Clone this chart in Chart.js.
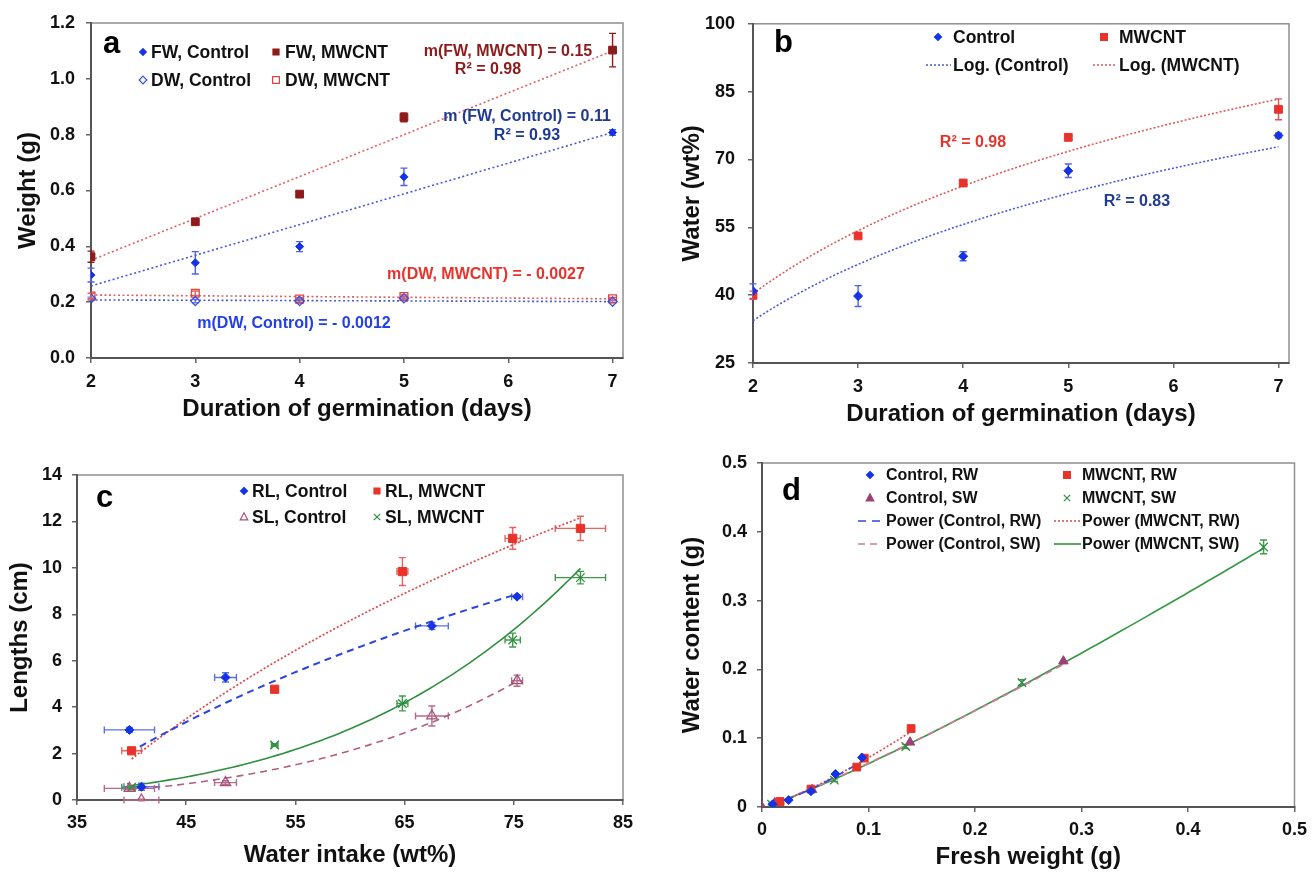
<!DOCTYPE html>
<html>
<head>
<meta charset="utf-8">
<script src="https://cdn.jsdelivr.net/npm/chart.js@4.4.1/dist/chart.umd.min.js"></script>
<style>
  html, body { margin: 0; padding: 0; background: #fff; }
  #wrap { position: relative; width: 1314px; height: 872px; overflow: hidden; background: #fff; }
  #wrap canvas { position: absolute; left: 0; top: 0; }
</style>
</head>
<body>
<div id="wrap">
  <canvas id="chartA" width="1314" height="872"></canvas>
  <canvas id="chartB" width="1314" height="872"></canvas>
  <canvas id="chartC" width="1314" height="872"></canvas>
  <canvas id="chartD" width="1314" height="872"></canvas>
</div>
<script>
// ---------------- data ----------------
const days = [2, 3, 4, 5, 7];

// (a) fresh / dry weight (g)
const fwControl    = [0.297, 0.341, 0.399, 0.649, 0.808];
const fwControlErr = [0.025, 0.040, 0.018, 0.031, 0.010];
const fwMwcnt      = [0.363, 0.488, 0.587, 0.862, 1.103];
const fwMwcntErr   = [0.020, 0.006, 0.008, 0.016, 0.060];
const dwControl    = [0.213, 0.204, 0.204, 0.214, 0.202];
const dwControlErr = [0.005, 0.006, 0.005, 0.006, 0.004];
const dwMwcnt      = [0.222, 0.232, 0.211, 0.220, 0.212];
const dwMwcntErr   = [0.010, 0.008, 0.005, 0.006, 0.005];
// linear trend lines: FW MWCNT, FW Control, DW MWCNT, DW Control
const trendSlope     = [0.15, 0.11, -0.0027, -0.0012];
const trendIntercept = [0.05, 0.038, 0.231, 0.2104];
const trendR2        = [0.98, 0.93];

// (b) water content (wt%)
const waterControl    = [40.9, 39.8, 48.6, 67.5, 75.3];
const waterControlErr = [1.6, 2.3, 1.0, 1.5, 0.5];
const waterMwcnt      = [40.0, 53.1, 64.8, 74.9, 81.1];
const waterMwcntErr   = [0.9, 0.3, 0.5, 0.7, 2.3];
const logR2           = [0.83, 0.98];   // Control, MWCNT

// (c) root / shoot lengths (cm)
const rlControl    = [0.57, 3.02, 5.28, 7.50, 8.76];
const rlControlErr = [0.15, 0.10, 0.20, 0.15, 0.06];
const rlMwcnt      = [2.12, 4.77, 9.84, 11.27, 11.70];
const rlMwcntErr   = [0.08, 0.10, 0.60, 0.47, 0.52];
const slControl    = [0.00, 0.50, 0.75, 3.62, 5.14];
const slControlErr = [0.03, 0.05, 0.08, 0.43, 0.24];
const slMwcnt      = [0.55, 2.37, 4.16, 6.89, 9.58];
const slMwcntErr   = [0.05, 0.06, 0.32, 0.30, 0.27];

// (d) fresh weight vs water content (g)
const fwRootControl  = [0.010, 0.025, 0.046, 0.069, 0.094];
const wcRootControl  = [0.004, 0.010, 0.023, 0.048, 0.072];
const fwRootMwcnt    = [0.017, 0.046, 0.089, 0.096, 0.140];
const wcRootMwcnt    = [0.008, 0.026, 0.058, 0.071, 0.114];
const fwShootControl = [0.000, 0.012, 0.047, 0.139, 0.283];
const wcShootControl = [0.000, 0.006, 0.025, 0.094, 0.212];
const fwShootMwcnt   = [0.009, 0.068, 0.135, 0.244, 0.471];
const wcShootMwcnt   = [0.004, 0.039, 0.088, 0.181, 0.378];
const wcShootMwcntErr = [0.001, 0.002, 0.003, 0.004, 0.010];

// tick values and labels
const ticksDays   = [2, 3, 4, 5, 6, 7];
const labelsDays  = ['2', '3', '4', '5', '6', '7'];
const ticksWeight = [0, 0.2, 0.4, 0.6, 0.8, 1.0, 1.2];
const labelsWeight = ['0.0', '0.2', '0.4', '0.6', '0.8', '1.0', '1.2'];
const ticksWater  = [25, 40, 55, 70, 85, 100];
const labelsWater = ['25', '40', '55', '70', '85', '100'];
const ticksIntake = [35, 45, 55, 65, 75, 85];
const labelsIntake = ['35', '45', '55', '65', '75', '85'];
const ticksLength = [0, 2, 4, 6, 8, 10, 12, 14];
const labelsLength = ['0', '2', '4', '6', '8', '10', '12', '14'];
const ticksGram   = [0, 0.1, 0.2, 0.3, 0.4, 0.5];
const labelsGram  = ['0', '0.1', '0.2', '0.3', '0.4', '0.5'];

// ---------------- helpers ----------------
const FONT = "'Liberation Sans', Arial, Helvetica, sans-serif";
const BLUE = '#1432e6', DARKRED = '#8e1b1b', RED = '#e8332b', GREEN = '#2f8f3f';
const NAVY = '#1f3a93', MAUVE = '#a5527a';
const CLEAR = 'rgba(255,255,255,0)';

const pts = (xs, ys) => xs.map((x, i) => ({ x, y: ys[i] }));

function linFit(xs, ys) {
  const n = xs.length;
  const mx = xs.reduce((a, b) => a + b, 0) / n;
  const my = ys.reduce((a, b) => a + b, 0) / n;
  let sxx = 0, sxy = 0;
  for (let i = 0; i < n; i++) { sxx += (xs[i] - mx) ** 2; sxy += (xs[i] - mx) * (ys[i] - my); }
  const m = sxy / sxx;
  return { m, c: my - m * mx };
}
// y = a ln(x) + b
function logFit(xs, ys) {
  const { m, c } = linFit(xs.map(Math.log), ys);
  return x => m * Math.log(x) + c;
}
// y = a x^b, positive values only
function powFit(xs, ys) {
  const keep = xs.map((x, i) => [x, ys[i]]).filter(p => p[0] > 0 && p[1] > 0);
  const { m, c } = linFit(keep.map(p => Math.log(p[0])), keep.map(p => Math.log(p[1])));
  return x => Math.exp(c) * Math.pow(x, m);
}
function positiveRange(xs, ys) {
  const v = xs.filter((x, i) => x > 0 && ys[i] > 0);
  return [Math.min(...v), Math.max(...v)];
}
function curvePts(f, x0, x1, n = 80) {
  const out = [];
  for (let i = 0; i <= n; i++) { const x = x0 + (x1 - x0) * i / n; out.push({ x, y: f(x) }); }
  return out;
}
const fmtSlope = v => (v < 0 ? '- ' + Math.abs(v) : String(v));

function markerSet(label, xs, ys, style, r, fill, stroke, bw, errY, errX, errColor) {
  return {
    label, data: pts(xs, ys), pointStyle: style, pointRadius: r,
    pointBackgroundColor: fill, pointBorderColor: stroke, pointBorderWidth: bw,
    showLine: false, errY, errX, errColor
  };
}
function lineSet(label, data, color, dash, width) {
  return {
    label, data, showLine: true, pointRadius: 0, borderColor: color,
    borderDash: dash, borderWidth: width, fill: false, tension: 0
  };
}

function drawMarker(ctx, style, x, y, s, fill, stroke, lw) {
  ctx.save();
  ctx.beginPath();
  if (style === 'rectRot') {
    ctx.moveTo(x, y - s); ctx.lineTo(x + s, y); ctx.lineTo(x, y + s); ctx.lineTo(x - s, y); ctx.closePath();
  } else if (style === 'rect') {
    ctx.rect(x - s, y - s, 2 * s, 2 * s);
  } else if (style === 'triangle') {
    ctx.moveTo(x, y - s); ctx.lineTo(x + s * 0.9, y + s * 0.7); ctx.lineTo(x - s * 0.9, y + s * 0.7); ctx.closePath();
  } else if (style === 'crossRot') {
    ctx.moveTo(x - s, y - s); ctx.lineTo(x + s, y + s); ctx.moveTo(x + s, y - s); ctx.lineTo(x - s, y + s);
  }
  if (fill && style !== 'crossRot') { ctx.fillStyle = fill; ctx.fill(); }
  ctx.strokeStyle = stroke; ctx.lineWidth = lw; ctx.stroke();
  ctx.restore();
}

// plot frame (top/right edges lighter than the axes)
const framePlugin = {
  id: 'frame',
  beforeDraw(chart) {
    const { ctx, chartArea: a } = chart;
    ctx.save();
    ctx.strokeStyle = '#8f8f8f';
    ctx.lineWidth = 1.5;
    ctx.strokeRect(a.left, a.top, a.right - a.left, a.bottom - a.top);
    ctx.restore();
  }
};

// error bars from dataset errX / errY arrays
const errorBarPlugin = {
  id: 'errbars',
  beforeDatasetsDraw(chart) {
    const { ctx } = chart;
    const xs = chart.scales.x, ys = chart.scales.y;
    chart.data.datasets.forEach(ds => {
      if (!ds.errY && !ds.errX) return;
      ctx.save();
      ctx.strokeStyle = ds.errColor;
      ctx.lineWidth = 1.4;
      const cap = 3.5;
      ds.data.forEach((p, i) => {
        const px = xs.getPixelForValue(p.x), py = ys.getPixelForValue(p.y);
        ctx.beginPath();
        if (ds.errY && ds.errY[i]) {
          const y0 = ys.getPixelForValue(p.y - ds.errY[i]), y1 = ys.getPixelForValue(p.y + ds.errY[i]);
          ctx.moveTo(px, y0); ctx.lineTo(px, y1);
          ctx.moveTo(px - cap, y0); ctx.lineTo(px + cap, y0);
          ctx.moveTo(px - cap, y1); ctx.lineTo(px + cap, y1);
        }
        if (ds.errX && ds.errX[i]) {
          const x0 = xs.getPixelForValue(p.x - ds.errX[i]), x1 = xs.getPixelForValue(p.x + ds.errX[i]);
          ctx.moveTo(x0, py); ctx.lineTo(x1, py);
          ctx.moveTo(x0, py - cap); ctx.lineTo(x0, py + cap);
          ctx.moveTo(x1, py - cap); ctx.lineTo(x1, py + cap);
        }
        ctx.stroke();
      });
      ctx.restore();
    });
  }
};

// panel letter, legend and text notes
function decorPlugin(spec) {
  return {
    id: 'decor',
    afterDraw(chart) {
      const ctx = chart.ctx;
      const dsets = chart.data.datasets;
      ctx.save();
      ctx.fillStyle = '#000';
      ctx.font = `bold 31px ${FONT}`;
      ctx.textAlign = 'left'; ctx.textBaseline = 'alphabetic';
      ctx.fillText(spec.letter[0], spec.letter[1], spec.letter[2]);

      spec.legend.forEach(it => {
        const ds = dsets[it.ds];
        if (it.line) {
          ctx.save();
          ctx.strokeStyle = ds.borderColor;
          ctx.lineWidth = ds.borderWidth;
          ctx.setLineDash(ds.borderDash || []);
          ctx.beginPath(); ctx.moveTo(it.line[0], it.y); ctx.lineTo(it.line[1], it.y); ctx.stroke();
          ctx.restore();
        } else {
          drawMarker(ctx, ds.pointStyle, it.mx, it.y, it.s, ds.pointBackgroundColor, ds.pointBorderColor, it.lw || 1.2);
        }
        ctx.fillStyle = '#111';
        ctx.font = `bold ${spec.legendSize}px ${FONT}`;
        ctx.textAlign = 'left'; ctx.textBaseline = 'middle';
        ctx.fillText(ds.label, it.tx, it.y + 1);
      });

      (spec.notes || []).forEach(n => {
        ctx.fillStyle = n.color;
        ctx.font = `bold 16px ${FONT}`;
        ctx.textAlign = 'center'; ctx.textBaseline = 'middle';
        ctx.fillText(n.text, n.x, n.y);
      });
      ctx.restore();
    }
  };
}

function axisOpts(ax, horizontal, size) {
  return {
    type: 'linear',
    position: horizontal ? 'bottom' : 'left',
    min: ax.min, max: ax.max,
    afterBuildTicks: s => { s.ticks = ax.ticks.map(v => ({ value: v })); },
    afterFit: s => { if (horizontal) s.height = size; else s.width = size; },
    ticks: {
      autoSkip: false, maxRotation: 0, minRotation: 0, padding: ax.pad, color: '#111',
      font: { family: FONT, size: 18, weight: 'bold' },
      callback: (v, i) => ax.labels[i]
    },
    grid: { display: true, drawOnChartArea: false, drawTicks: true, tickLength: 5, color: '#666', lineWidth: 1.5 },
    border: { display: true, color: '#555', width: 2 },
    title: { display: true, text: ax.title, color: '#111', padding: 0, font: { family: FONT, size: 24, weight: 'bold' } }
  };
}

function buildChart(id, area, xAx, yAx, datasets, decor) {
  return new Chart(document.getElementById(id), {
    type: 'scatter',
    data: { datasets },
    options: {
      responsive: false, animation: false, events: [],
      layout: { padding: { left: area.L - area.W, top: area.T, right: 1314 - area.R, bottom: Math.max(0, 872 - area.B - area.H) } },
      plugins: { legend: { display: false }, tooltip: { enabled: false } },
      scales: { x: axisOpts(xAx, true, area.H), y: axisOpts(yAx, false, area.W) }
    },
    plugins: [framePlugin, errorBarPlugin, decorPlugin(decor)]
  });
}

// ---------------- (a) weight vs days ----------------
const trendLine = k => [2, 7].map(x => ({ x, y: trendIntercept[k] + trendSlope[k] * x }));
buildChart('chartA',
  { L: 91, R: 623, T: 23, B: 358, W: 77, H: 66 },
  { min: 2, max: 7.1, ticks: ticksDays, labels: labelsDays, pad: 8, title: 'Duration of germination (days)' },
  { min: 0, max: 1.2, ticks: ticksWeight, labels: labelsWeight, pad: 11, title: 'Weight (g)' },
  [
    markerSet('FW, Control', days, fwControl, 'rectRot', 4, BLUE, BLUE, 1, fwControlErr, null, '#4d62e3'),
    markerSet('FW, MWCNT', days, fwMwcnt, 'rect', 5.5, DARKRED, DARKRED, 1, fwMwcntErr, null, DARKRED),
    markerSet('DW, Control', days, dwControl, 'rectRot', 4.6, CLEAR, '#3b50e0', 1.3, dwControlErr, null, '#6a7ae8'),
    markerSet('DW, MWCNT', days, dwMwcnt, 'rect', 5.5, CLEAR, '#e0453f', 1.3, dwMwcntErr, null, '#e06060'),
    lineSet('FW, MWCNT fit', trendLine(0), '#e06262', [2, 2.5], 1.6),
    lineSet('FW, Control fit', trendLine(1), '#4a5ad8', [2, 2.5], 1.6),
    lineSet('DW, MWCNT fit', trendLine(2), '#e06262', [2, 2.5], 1.6),
    lineSet('DW, Control fit', trendLine(3), '#4a5ad8', [2, 2.5], 1.6)
  ],
  {
    letter: ['a', 103, 53], legendSize: 17.5,
    legend: [
      { ds: 0, mx: 143, tx: 151, y: 52, s: 3.3 },
      { ds: 1, mx: 276, tx: 285, y: 52, s: 3 },
      { ds: 2, mx: 143, tx: 151, y: 80, s: 3.8 },
      { ds: 3, mx: 276, tx: 285, y: 80, s: 3.4 }
    ],
    notes: [
      { text: `m(FW, MWCNT) = ${fmtSlope(trendSlope[0])}`, x: 508, y: 52, color: DARKRED },
      { text: `R\u00B2 = ${trendR2[0].toFixed(2)}`, x: 488, y: 70, color: DARKRED },
      { text: `m (FW, Control) = ${fmtSlope(trendSlope[1])}`, x: 527, y: 117, color: NAVY },
      { text: `R\u00B2 = ${trendR2[1].toFixed(2)}`, x: 527, y: 136, color: NAVY },
      { text: `m(DW, MWCNT) = ${fmtSlope(trendSlope[2])}`, x: 486, y: 275, color: RED },
      { text: `m(DW, Control) = ${fmtSlope(trendSlope[3])}`, x: 294, y: 324, color: '#2340e8' }
    ]
  }
);

// ---------------- (b) water content vs days ----------------
const logControl = logFit(days, waterControl);
const logMwcnt = logFit(days, waterMwcnt);
buildChart('chartB',
  { L: 753, R: 1289, T: 16, B: 363, W: 75.4, H: 65.4 },
  { min: 2, max: 7.1, ticks: ticksDays, labels: labelsDays, pad: 8, title: 'Duration of germination (days)' },
  { min: 25, max: 100, ticks: ticksWater, labels: labelsWater, pad: 13, title: 'Water (wt%)' },
  [
    markerSet('Control', days, waterControl, 'rectRot', 4.5, BLUE, BLUE, 1, waterControlErr, null, '#4d62e3'),
    markerSet('MWCNT', days, waterMwcnt, 'rect', 5.5, RED, RED, 1, waterMwcntErr, null, '#e05050'),
    lineSet('Log. (Control)', curvePts(logControl, 2, 7), '#4a5ad8', [2, 2], 1.6),
    lineSet('Log. (MWCNT)', curvePts(logMwcnt, 2, 7), '#e05a5a', [2, 2], 1.6)
  ],
  {
    letter: ['b', 774, 52], legendSize: 17.5,
    legend: [
      { ds: 0, mx: 938, tx: 953, y: 37, s: 3.5 },
      { ds: 1, mx: 1104, tx: 1119, y: 37, s: 3.4 },
      { ds: 2, line: [926, 951], tx: 953, y: 65 },
      { ds: 3, line: [1093, 1117], tx: 1119, y: 65 }
    ],
    notes: [
      { text: `R\u00B2 = ${logR2[1].toFixed(2)}`, x: 973, y: 143, color: RED },
      { text: `R\u00B2 = ${logR2[0].toFixed(2)}`, x: 1137, y: 202, color: NAVY }
    ]
  }
);

// ---------------- (c) lengths vs water intake ----------------
const [cx0, cx1] = [Math.min(...waterControl), Math.max(...waterControl)];
const [mx0, mx1] = [Math.min(...waterMwcnt), Math.max(...waterMwcnt)];
const [sc0, sc1] = positiveRange(waterControl, slControl);
buildChart('chartC',
  { L: 77, R: 623, T: 475, B: 800, W: 71.4, H: 69.4 },
  { min: 35, max: 85, ticks: ticksIntake, labels: labelsIntake, pad: 7, title: 'Water intake (wt%)' },
  { min: 0, max: 14, ticks: ticksLength, labels: labelsLength, pad: 10, title: 'Lengths (cm)' },
  [
    markerSet('RL, Control', waterControl, rlControl, 'rectRot', 4.5, BLUE, BLUE, 1, rlControlErr, waterControlErr, '#5a6fe8'),
    markerSet('RL, MWCNT', waterMwcnt, rlMwcnt, 'rect', 5.8, RED, RED, 1, rlMwcntErr, waterMwcntErr, '#e86464'),
    markerSet('SL, Control', waterControl, slControl, 'triangle', 6, CLEAR, MAUVE, 1.3, slControlErr, waterControlErr, '#b86a8c'),
    markerSet('SL, MWCNT', waterMwcnt, slMwcnt, 'crossRot', 6, GREEN, GREEN, 1.3, slMwcntErr, waterMwcntErr, '#3f9a4c'),
    lineSet('RL, Control fit', curvePts(logFit(waterControl, rlControl), cx0, cx1), '#2a45e0', [7, 5], 2),
    lineSet('RL, MWCNT fit', curvePts(logFit(waterMwcnt, rlMwcnt), mx0, mx1), '#e04848', [2, 2], 1.7),
    lineSet('SL, Control fit', curvePts(powFit(waterControl, slControl), sc0, sc1), '#b0607e', [7, 5], 1.6),
    lineSet('SL, MWCNT fit', curvePts(powFit(waterMwcnt, slMwcnt), mx0, mx1), GREEN, [], 1.6)
  ],
  {
    letter: ['c', 96, 507], legendSize: 17.5,
    legend: [
      { ds: 0, mx: 244, tx: 252, y: 491, s: 3.5 },
      { ds: 1, mx: 377, tx: 385, y: 491, s: 3 },
      { ds: 2, mx: 244, tx: 252, y: 517, s: 4.2 },
      { ds: 3, mx: 377, tx: 385, y: 517, s: 3.2 }
    ]
  }
);

// ---------------- (d) water content vs fresh weight ----------------
const rc = positiveRange(fwRootControl, wcRootControl);
const rm = positiveRange(fwRootMwcnt, wcRootMwcnt);
const sc = positiveRange(fwShootControl, wcShootControl);
const sm = positiveRange(fwShootMwcnt, wcShootMwcnt);
buildChart('chartD',
  { L: 762, R: 1296, T: 463, B: 807, W: 84.4, H: 65 },
  { min: 0, max: 0.5, ticks: ticksGram, labels: labelsGram, pad: 7, title: 'Fresh weight (g)' },
  { min: 0, max: 0.5, ticks: ticksGram, labels: labelsGram, pad: 10, title: 'Water content (g)' },
  [
    markerSet('Control, RW', fwRootControl, wcRootControl, 'rectRot', 4.5, BLUE, BLUE, 1, null, null, BLUE),
    markerSet('MWCNT, RW', fwRootMwcnt, wcRootMwcnt, 'rect', 5.5, RED, RED, 1, null, null, RED),
    markerSet('Control, SW', fwShootControl, wcShootControl, 'triangle', 5.5, '#9c4078', '#9c4078', 1, null, null, MAUVE),
    markerSet('MWCNT, SW', fwShootMwcnt, wcShootMwcnt, 'crossRot', 6, GREEN, GREEN, 1.3, wcShootMwcntErr, null, '#3f9a4c'),
    lineSet('Power (Control, RW)', curvePts(powFit(fwRootControl, wcRootControl), rc[0], rc[1]), '#3548d8', [8, 6], 1.6),
    lineSet('Power (MWCNT, RW)', curvePts(powFit(fwRootMwcnt, wcRootMwcnt), rm[0], rm[1]), '#e04848', [2, 2], 1.6),
    lineSet('Power (Control, SW)', curvePts(powFit(fwShootControl, wcShootControl), sc[0], sc[1]), '#d07a98', [7, 5], 1.6),
    lineSet('Power (MWCNT, SW)', curvePts(powFit(fwShootMwcnt, wcShootMwcnt), sm[0], sm[1]), '#3a9848', [], 1.7)
  ],
  {
    letter: ['d', 782, 500], legendSize: 16,
    legend: [
      { ds: 0, mx: 870, tx: 886, y: 475, s: 3.5 },
      { ds: 1, mx: 1067, tx: 1082, y: 475, s: 3.4 },
      { ds: 2, mx: 870, tx: 886, y: 498, s: 4.2 },
      { ds: 3, mx: 1067, tx: 1082, y: 498, s: 3.2 },
      { ds: 4, line: [858, 880], tx: 886, y: 521 },
      { ds: 5, line: [1054, 1081], tx: 1082, y: 521 },
      { ds: 6, line: [858, 880], tx: 886, y: 544 },
      { ds: 7, line: [1054, 1081], tx: 1082, y: 544 }
    ]
  }
);
</script>
</body>
</html>
